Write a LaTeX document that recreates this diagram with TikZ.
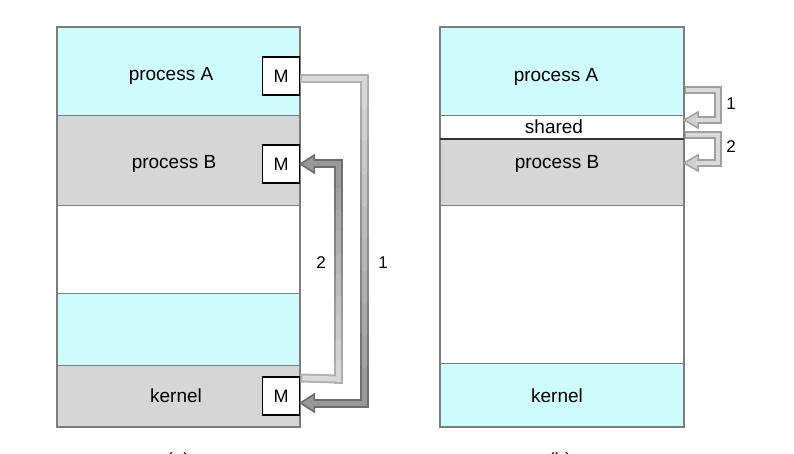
\documentclass[tikz,border=0pt]{standalone}
\usepackage{fontspec}
\setmainfont{Liberation Sans}
\usetikzlibrary{calc}
\definecolor{cyanfill}{RGB}{206,252,252}
\definecolor{grayfill}{RGB}{214,214,214}
\definecolor{secline}{RGB}{125,125,125}
\definecolor{bdL}{RGB}{178,178,178}
\definecolor{inL}{RGB}{218,218,218}
\definecolor{bdD}{RGB}{108,108,108}
\definecolor{inD}{RGB}{152,152,152}
\begin{document}
\begin{tikzpicture}[x=1pt,y=-1pt,
  sec/.style={draw=secline, line width=0.8pt},
  lbl/.style={font=\fontsize{19}{21}\selectfont, text=black, inner sep=0pt},
  num/.style={font=\fontsize{17}{19}\selectfont, text=black, inner sep=0pt},
  mbox/.style={draw=black, line width=1.8pt, fill=white, minimum width=37pt,
    minimum height=38pt, inner sep=0pt, font=\fontsize{18}{19}\selectfont},
  band/.style={line width=#1, line cap=rect, line join=miter},
]
\useasboundingbox[clip] (0,0) rectangle (794,454);
\fill[white] (0,0) rectangle (794,454);

% ---------- left panel ----------
\filldraw[sec, fill=cyanfill] (57,27) rectangle (300,115);
\filldraw[sec, fill=grayfill] (57,115) rectangle (300,205);
\filldraw[sec, fill=white]    (57,205) rectangle (300,293);
\filldraw[sec, fill=cyanfill] (57,293) rectangle (300,365);
\filldraw[sec, fill=grayfill] (57,365) rectangle (300,427);
\draw[secline, line width=1.2pt] (57,27) rectangle (300,427);

\node[lbl] (lA) at (171,76) {process A};
\node[lbl] (lB) at (174,164) {process B};
\node[lbl] (lK) at (176,396) {kernel};

\node[mbox] (mA) at (281,76) {M};
\node[mbox] (mB) at (281,164) {M};
\node[mbox] (mK) at (281,396) {M};

% arrow 1 : M(A) -> M(kernel), light at tail, dark at head
\coordinate (p0) at ($(mA.east)+(4.5,3)$);
\coordinate (p1) at (364,79);
\coordinate (p2) at (364,403);
\coordinate (p3) at ($(mK.east)+(0,7)$);
\coordinate (p3b) at ($(p3)+(14,0)$);
% arrow 2 : M(kernel) -> M(B)
\coordinate (q0) at ($(mK.north east)+(4.5,2)$);
\coordinate (q1) at (338,379);
\coordinate (q2) at (338,164);
\coordinate (q3) at (mB.east);
\coordinate (q3b) at ($(q3)+(14,0)$);

% border pass
\draw[band=9pt, bdL] (p0) -- (p1);
\foreach \i in {0,...,9}{
  \pgfmathtruncatemacro\pc{95-10*\i}
  \draw[band=9pt, color=bdL!\pc!bdD] ($(p1)!\i/10!(p2)$) -- ($(p1)!{(\i+1)/10}!(p2)$);
}
\draw[band=9pt, bdD] (p2) -- (p3b);
\draw[band=9pt, bdL] (q0) -- (q1);
\foreach \i in {0,...,9}{
  \pgfmathtruncatemacro\pc{95-10*\i}
  \draw[band=9pt, color=bdL!\pc!bdD] ($(q1)!\i/10!(q2)$) -- ($(q1)!{(\i+1)/10}!(q2)$);
}
\draw[band=9pt, bdD] (q2) -- (q3b);
% heads
\filldraw[draw=bdD, fill=inD, line width=1.6pt, line join=miter]
  (p3) -- ($(p3b)+(0,-9)$) -- ($(p3b)+(0,9)$) -- cycle;
\filldraw[draw=bdD, fill=inD, line width=1.6pt, line join=miter]
  (q3) -- ($(q3b)+(0,-9)$) -- ($(q3b)+(0,9)$) -- cycle;
% inner pass
\draw[band=5pt, inL] (p0) -- (p1);
\foreach \i in {0,...,9}{
  \pgfmathtruncatemacro\pc{95-10*\i}
  \draw[band=5pt, color=inL!\pc!inD] ($(p1)!\i/10!(p2)$) -- ($(p1)!{(\i+1)/10}!(p2)$);
}
\draw[band=5pt, inD] (p2) -- (p3b);
\draw[band=5pt, inL] (q0) -- (q1);
\foreach \i in {0,...,9}{
  \pgfmathtruncatemacro\pc{95-10*\i}
  \draw[band=5pt, color=inL!\pc!inD] ($(q1)!\i/10!(q2)$) -- ($(q1)!{(\i+1)/10}!(q2)$);
}
\draw[band=5pt, inD] (q2) -- (q3b);

\node[num] (n2) at (321,263) {2};
\node[num] (n1) at (383,263) {1};

% ---------- right panel ----------
\filldraw[sec, fill=cyanfill] (440,27) rectangle (684,115);
\filldraw[sec, fill=white]    (440,115) rectangle (684,139);
\filldraw[sec, fill=grayfill] (440,139) rectangle (684,205);
\filldraw[sec, fill=white]    (440,205) rectangle (684,363);
\filldraw[sec, fill=cyanfill] (440,363) rectangle (684,427);
\draw[secline, line width=1.2pt] (440,27) rectangle (684,427);
\draw[black!80, line width=1.6pt] (440,139) -- (684,139);

\node[lbl] (rA) at (556,77) {process A};
\node[lbl] (rS) at (554,127) {shared};
\node[lbl] (rB) at (557,164) {process B};
\node[lbl] (rK) at (557,396) {kernel};

% small arrows
\coordinate (s0) at (688.5,90);
\coordinate (s1) at (718,90);
\coordinate (s2) at (718,120);
\coordinate (s3) at (684,120);
\coordinate (s3b) at ($(s3)+(14,0)$);
\coordinate (t0) at (688.5,135);
\coordinate (t1) at (718,135);
\coordinate (t2) at (718,163);
\coordinate (t3) at (684,163);
\coordinate (t3b) at ($(t3)+(14,0)$);
\foreach \a/\b/\c/\d/\e in {s0/s1/s2/s3/s3b, t0/t1/t2/t3/t3b}{
  \draw[band=8pt, bdL!75!bdD] (\a) -- (\b) -- (\c) -- (\e);
  \filldraw[draw=bdL!75!bdD, fill=inL!85!inD, line width=1.5pt, line join=miter]
    (\d) -- ($(\e)+(0,-8)$) -- ($(\e)+(0,8)$) -- cycle;
  \draw[band=4.4pt, inL] (\a) -- (\b) -- (\c) -- (\e);
}
\node[num] (r1) at (731,104) {1};
\node[num] (r2) at (731,147) {2};

% captions (cut by the lower edge, as in the reference)
\node[lbl, anchor=base] (ca) at (178,466) {(a)};
\node[lbl, anchor=base] (cb) at (560,466) {(b)};
\end{tikzpicture}
\end{document}
